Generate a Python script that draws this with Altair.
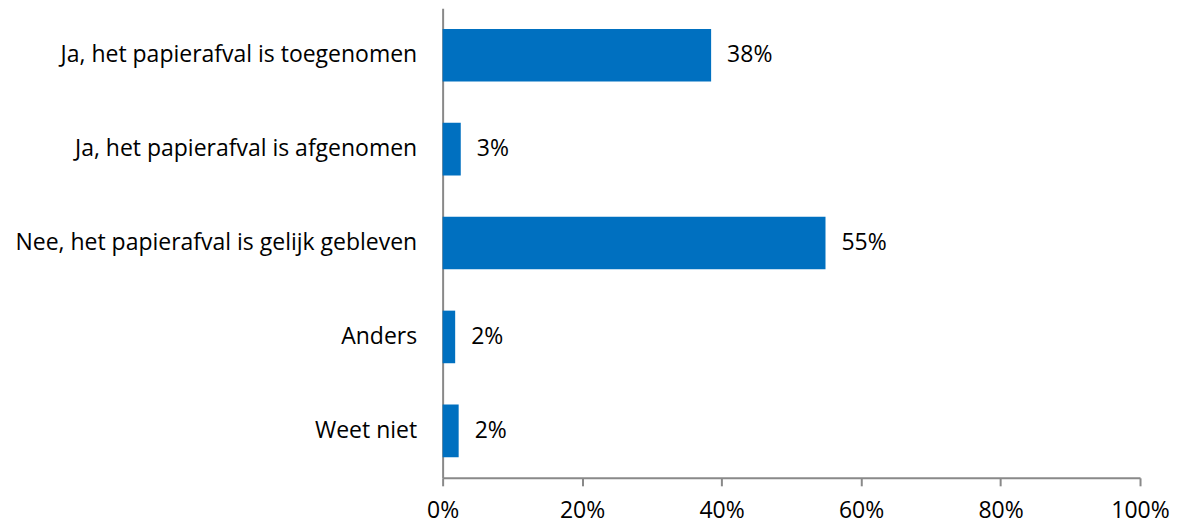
import altair as alt
import pandas as pd

categories = [
    "Ja, het papierafval is toegenomen",
    "Ja, het papierafval is afgenomen",
    "Nee, het papierafval is gelijk gebleven",
    "Anders",
    "Weet niet",
]
values = [38.5, 2.6, 54.9, 1.8, 2.3]
labels = ["38%", "3%", "55%", "2%", "2%"]

df = pd.DataFrame({"cat": categories, "val": values, "lab": labels})

FONT = "Open Sans"
GRAY = "#898989"
FS = 23

y_enc = alt.Y("cat:N", sort=categories, title=None,
              scale=alt.Scale(paddingInner=0.44, paddingOuter=0.22),
              axis=alt.Axis(domainColor=GRAY, domainWidth=2, ticks=False,
                            labelPadding=26, labelFontSize=FS, labelFont=FONT,
                            labelColor="#000000", labelLimit=500))
x_enc = alt.X("val:Q", title=None,
              scale=alt.Scale(domain=[0, 100], nice=False),
              axis=alt.Axis(values=[0, 20, 40, 60, 80, 100], format=".0f",
                            labelExpr="datum.value + '%'",
                            domainColor=GRAY, domainWidth=2, tickColor=GRAY,
                            tickWidth=2, tickSize=8, labelPadding=14,
                            labelFontSize=FS, labelFont=FONT, labelColor="#000000",
                            grid=False, labelFlush=False))

bars = alt.Chart(df).mark_bar(color="#0070C0").encode(x=x_enc, y=y_enc)
text = alt.Chart(df).mark_text(align="left", baseline="middle", dx=16,
                               fontSize=FS, font=FONT, color="#000000").encode(
    x=alt.X("val:Q"), y=alt.Y("cat:N", sort=categories), text="lab:N")

chart = (bars + text).properties(
    width=698, height=470,
    autosize=alt.AutoSizeParams(type="none"),
    padding={"left": 435, "top": 0, "right": 30, "bottom": 46},
).configure_view(stroke=None)

chart.save("out.html", embed_options={"renderer": "svg", "actions": False})
